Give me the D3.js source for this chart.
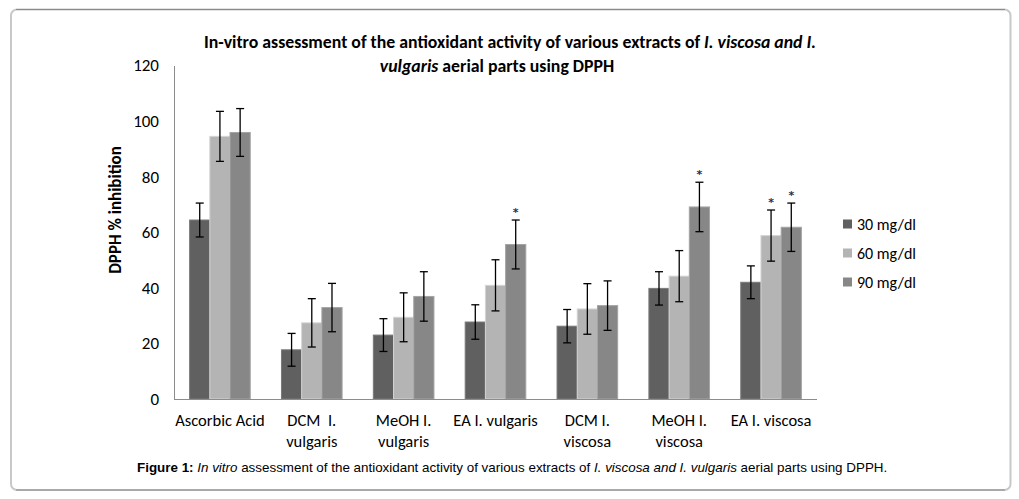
<!DOCTYPE html>
<html>
<head>
<meta charset="utf-8">
<script src="https://cdn.jsdelivr.net/npm/d3@7"></script>
<style>
  html, body { margin: 0; padding: 0; background: #fff; }
  svg { display: block; }
  text { white-space: pre; }
</style>
</head>
<body>
<svg id="chart" width="1019" height="499"></svg>
<script>
// ---- data ----
const categories = [
  ["Ascorbic Acid"],
  ["DCM  I.", "vulgaris"],
  ["MeOH I.", "vulgaris"],
  ["EA I. vulgaris"],
  ["DCM I.", "viscosa"],
  ["MeOH I.", "viscosa"],
  ["EA I. viscosa"]
];
const seriesNames = ["30 mg/dl", "60 mg/dl", "90 mg/dl"];
const values30 = [64.4, 17.7, 23.0, 27.7, 26.2, 39.8, 42.0];
const values60 = [94.5, 27.4, 29.4, 40.9, 32.4, 44.2, 58.8];
const values90 = [95.9, 32.9, 36.9, 55.6, 33.6, 69.1, 61.8];
const errors30 = [6.1, 5.9, 5.9, 6.2, 6.0, 6.0, 5.9];
const errors60 = [9.0, 8.7, 8.8, 9.2, 9.1, 9.2, 9.2];
const errors90 = [8.6, 8.7, 8.9, 8.8, 8.9, 8.9, 8.7];
// significance marks: [category index, series index]
const starred = [[3, 2], [5, 2], [6, 1], [6, 2]];
const yTicks = [0, 20, 40, 60, 80, 100, 120];

const colors = ["#606060", "#b4b4b4", "#878787"];
const edgeColors = ["#7a7a7a", "#d4d4d4", "#a4a4a4"];
const FONT = "Carlito, Lato, 'Open Sans', sans-serif";

const svg = d3.select("#chart");

// frame
svg.append("rect").attr("x", 11).attr("y", 9.5).attr("width", 999.5).attr("height", 480.5)
  .attr("rx", 6).attr("fill", "none").attr("stroke", "#c8c8c8").attr("stroke-width", 2);
svg.append("line").attr("x1", 16).attr("x2", 1005).attr("y1", 9.5).attr("y2", 9.5)
  .attr("stroke", "#8a8a8a").attr("stroke-width", 1.2);
svg.append("line").attr("x1", 16).attr("x2", 1005).attr("y1", 490).attr("y2", 490)
  .attr("stroke", "#8a8a8a").attr("stroke-width", 1.2);

// scales
const y = d3.scaleLinear().domain([0, 120]).range([399, 65.5]);
const x0 = d3.scaleBand().domain(d3.range(categories.length)).range([174, 817])
  .paddingInner(0.34).paddingOuter(0.17);
const x1 = d3.scaleBand().domain(d3.range(seriesNames.length)).range([0, x0.bandwidth()]);

const seriesVals = [values30, values60, values90];
const seriesErr = [errors30, errors60, errors90];

// bars
const g = svg.append("g");
seriesNames.forEach((s, si) => {
  g.selectAll(null).data(seriesVals[si]).enter().append("rect")
    .attr("x", (d, i) => x0(i) + x1(si))
    .attr("y", d => y(d))
    .attr("width", x1.bandwidth())
    .attr("height", d => y(0) - y(d))
    .attr("fill", colors[si])
    .attr("stroke", edgeColors[si])
    .attr("stroke-width", 1);
});

// error bars
const cap = 4;
seriesNames.forEach((s, si) => {
  seriesVals[si].forEach((v, i) => {
    const cx = x0(i) + x1(si) + x1.bandwidth() / 2;
    const e = seriesErr[si][i];
    const eg = g.append("g").attr("stroke", "#000").attr("stroke-width", 1.3);
    eg.append("line").attr("x1", cx).attr("x2", cx).attr("y1", y(v + e)).attr("y2", y(v - e));
    eg.append("line").attr("x1", cx - cap).attr("x2", cx + cap).attr("y1", y(v + e)).attr("y2", y(v + e));
    eg.append("line").attr("x1", cx - cap).attr("x2", cx + cap).attr("y1", y(v - e)).attr("y2", y(v - e));
  });
});

// asterisks
starred.forEach(([ci, si]) => {
  const cx = x0(ci) + x1(si) + x1.bandwidth() / 2;
  const top = y(seriesVals[si][ci] + seriesErr[si][ci]);
  g.append("text").attr("x", cx).attr("y", top - 4)
    .attr("text-anchor", "middle").attr("font-family", "'DejaVu Sans', sans-serif")
    .attr("font-size", 11).attr("font-weight", "bold").attr("fill", "#1f2f5a").text("*");
});

// axes
const yAxis = svg.append("g").attr("transform", "translate(174,0)")
  .call(d3.axisLeft(y).tickValues(yTicks).tickSize(0).tickPadding(15));
yAxis.select(".domain").attr("stroke", "#8c8c8c");
yAxis.selectAll("text").attr("font-family", FONT).attr("font-size", 17).attr("fill", "#000");

const xAxis = svg.append("g").attr("transform", "translate(0,399)")
  .call(d3.axisBottom(x0).tickSize(0).tickFormat(""));
xAxis.select(".domain").attr("stroke", "#8c8c8c").attr("d", "M174,0.5H817");

const labels = svg.append("g");
categories.forEach((lines, i) => {
  const t = labels.append("text").attr("text-anchor", "middle")
    .attr("font-family", FONT).attr("font-size", 16.5).attr("fill", "#000");
  lines.forEach((ln, li) => {
    t.append("tspan").attr("x", x0(i) + x0.bandwidth() / 2).attr("y", 426 + li * 21).text(ln);
  });
});

// y title
svg.append("text").attr("transform", "translate(121,210) rotate(-90)")
  .attr("text-anchor", "middle").attr("font-family", FONT).attr("font-weight", "bold")
  .attr("font-size", 17).text("DPPH % inhibition");

// chart title
const t1 = svg.append("text").attr("x", 510).attr("y", 48).attr("text-anchor", "middle")
  .attr("font-family", FONT).attr("font-weight", "bold").attr("font-size", 17.8);
t1.append("tspan").text("In-vitro assessment of the antioxidant activity of various extracts of ");
t1.append("tspan").attr("font-style", "italic").text("I. viscosa and I.");
const t2 = svg.append("text").attr("x", 497).attr("y", 72).attr("text-anchor", "middle")
  .attr("font-family", FONT).attr("font-weight", "bold").attr("font-size", 17.8);
t2.append("tspan").attr("font-style", "italic").text("vulgaris");
t2.append("tspan").text(" aerial parts using DPPH");

// legend
const lg = svg.append("g");
seriesNames.forEach((s, si) => {
  const cy = 224 + si * 29;
  lg.append("rect").attr("x", 843).attr("y", cy - 4.5).attr("width", 9).attr("height", 9).attr("fill", colors[si]);
  lg.append("text").attr("x", 857).attr("y", cy + 5.5).attr("font-family", FONT)
    .attr("font-size", 16).attr("fill", "#000").text(s);
});

// caption
const cap1 = svg.append("text").attr("x", 137).attr("y", 472)
  .attr("font-family", "'Liberation Sans', Arial, sans-serif").attr("font-size", 13.4).attr("fill", "#000");
cap1.append("tspan").attr("font-weight", "bold").text("Figure 1: ");
cap1.append("tspan").attr("font-style", "italic").text("In vitro");
cap1.append("tspan").text(" assessment of the antioxidant activity of various extracts of ");
cap1.append("tspan").attr("font-style", "italic").text("I. viscosa and I. vulgaris");
cap1.append("tspan").text(" aerial parts using DPPH.");
</script>
</body>
</html>
